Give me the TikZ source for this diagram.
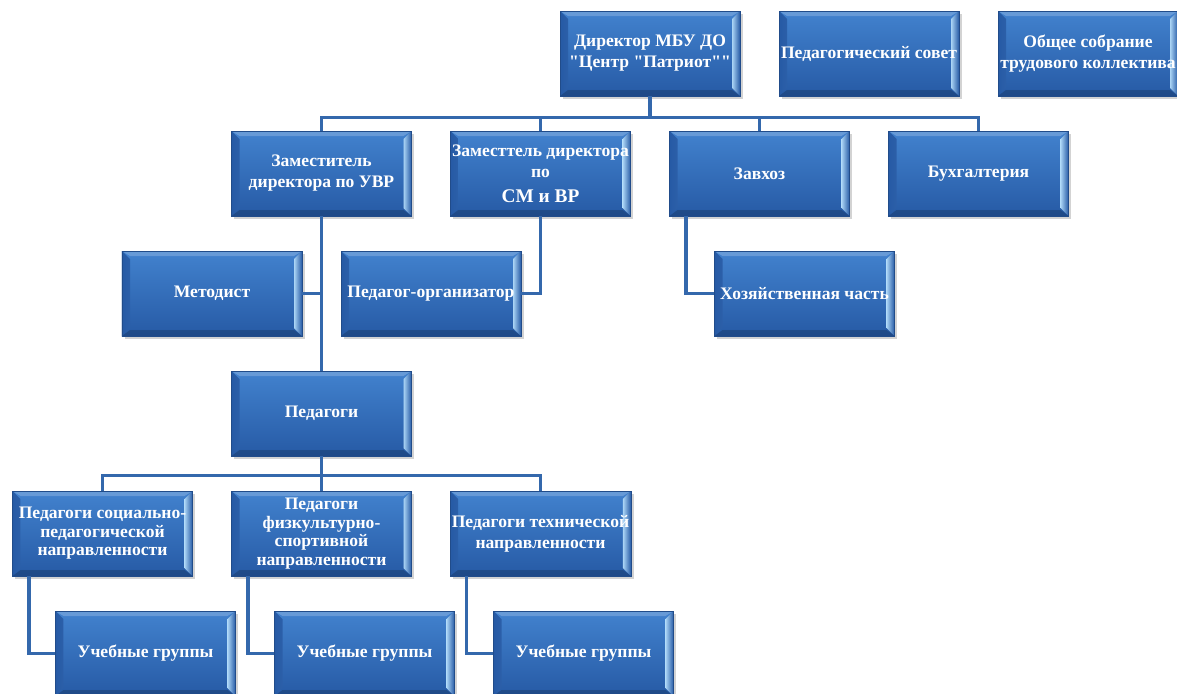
\documentclass[tikz,border=0pt]{standalone}
\usepackage{fontspec}
\setmainfont{Liberation Serif}[Ligatures=TeXOff]
\usetikzlibrary{positioning,calc,shadows}
\definecolor{boxtop}{RGB}{66,130,206}
\definecolor{boxbot}{RGB}{38,90,165}
\definecolor{boxedge}{RGB}{33,76,138}
\definecolor{bevhi}{RGB}{170,212,245}
\definecolor{linkcol}{RGB}{52,104,172}
\newcommand{\boxbevel}{%
  \shade[left color=boxbot, right color=bevhi] (path picture bounding box.south west) -- (path picture bounding box.north west) -- ([shift={(0.16,-0.16)}]path picture bounding box.north west) -- ([shift={(0.16,0.16)}]path picture bounding box.south west) -- cycle;
  \shade[right color=boxbot, left color=bevhi] (path picture bounding box.south east) -- (path picture bounding box.north east) -- ([shift={(-0.16,-0.16)}]path picture bounding box.north east) -- ([shift={(-0.16,0.16)}]path picture bounding box.south east) -- cycle;
  \fill[white, opacity=0.2] (path picture bounding box.north west) -- (path picture bounding box.north east) -- ([shift={(-0.16,-0.1)}]path picture bounding box.north east) -- ([shift={(0.16,-0.1)}]path picture bounding box.north west) -- cycle;
  \fill[black, opacity=0.18] (path picture bounding box.south west) -- (path picture bounding box.south east) -- ([shift={(-0.16,0.12)}]path picture bounding box.south east) -- ([shift={(0.16,0.12)}]path picture bounding box.south west) -- cycle;
}
\tikzstyle{unit} = [rectangle, draw=boxedge, line width=0.5pt, top color=boxtop, bottom color=boxbot, minimum width=3.6cm, minimum height=1.7cm, inner sep=1pt, text=white, align=center, font=\bfseries\fontsize{10}{12}\selectfont, drop shadow={shadow xshift=1.5pt, shadow yshift=-1.5pt, opacity=0.35}, path picture={\boxbevel}]
\tikzstyle{tight} = [font=\bfseries\fontsize{10}{10.5}\selectfont]
\tikzstyle{link} = [draw=linkcol, line width=1.8pt]

\begin{document}
\begin{tikzpicture}[node distance=2.4cm and 4.38cm, on grid]
    \useasboundingbox (0,0) rectangle (23.54,-13.88);
    \node[unit] (dir) at (13.0,-1.07) {Директор МБУ ДО\\"Центр "Патриот""};
    \node[unit, right=of dir] (sovet) {Педагогический совет};
    \node[unit, right=of sovet] (sobr) {Общее собрание\\трудового коллектива};

    \node[unit, below=of dir, xshift=-2.19cm] (zamsm) {Заместтель директора\\по\\[2pt]{\fontsize{11}{13}\selectfont СМ и ВР}};
    \node[unit, left=of zamsm] (uvr) {Заместитель\\директора по УВР};
    \node[unit, right=of zamsm] (zavhoz) {Завхоз};
    \node[unit, right=of zavhoz] (buh) {Бухгалтерия};

    \node[unit, below=of uvr, xshift=-2.19cm] (met) {Методист};
    \node[unit, right=of met] (porg) {Педагог-организатор};
    \node[unit, below=of zavhoz, xshift=0.9cm] (hoz) {Хозяйственная часть};

    \node[unit, below=4.8cm of uvr] (ped) {Педагоги};
    \node[unit, tight, below=of ped] (fiz) {Педагоги\\физкультурно-\\спортивной\\направленности};
    \node[unit, tight, left=of fiz] (soc) {Педагоги социально-\\педагогической\\направленности};
    \node[unit, right=of fiz] (teh) {Педагоги технической\\направленности};

    \node[unit, below=of soc, xshift=0.86cm] (ug1) {Учебные группы};
    \node[unit, below=of fiz, xshift=0.86cm] (ug2) {Учебные группы};
    \node[unit, below=of teh, xshift=0.86cm] (ug3) {Учебные группы};

    \coordinate[below=0.42cm of dir.south] (bus1);
    \coordinate[below=0.38cm of ped.south] (bus2);

    \draw[link] (dir) -- (bus1);
    \draw[link] (uvr.north) |- (bus1) -| (buh.north);
    \draw[link] (zamsm.north) -- (zamsm.north |- bus1);
    \draw[link] (zavhoz.north) -- (zavhoz.north |- bus1);
    \draw[link] (uvr) -- (ped);
    \draw[link] (met.east) -- (met.east -| uvr.south);
    \draw[link] (zamsm.south) |- (porg.east);
    \draw[link] (hoz.west) -| ([xshift=0.34cm]zavhoz.south west);
    \draw[link] (ped) -- (bus2);
    \draw[link] (soc.north) |- (bus2) -| (teh.north);
    \draw[link] (fiz) -- (bus2);
    \foreach \up/\low in {soc/ug1, fiz/ug2, teh/ug3}
        \draw[link] (\low.west) -| ([xshift=0.34cm]\up.south west);
\end{tikzpicture}
\end{document}
